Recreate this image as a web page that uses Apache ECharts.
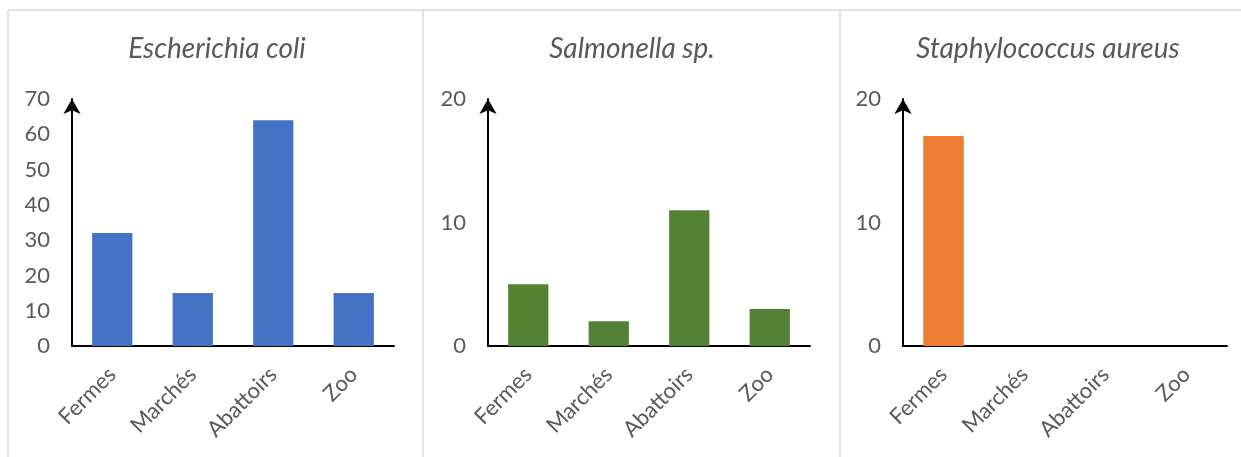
<!DOCTYPE html>
<html><head><meta charset="utf-8">
<script src="https://cdn.jsdelivr.net/npm/echarts@6/dist/echarts.min.js"></script>
<style>html,body{margin:0;padding:0;background:#fff}#c{width:1241px;height:457px}</style>
</head><body><div id="c"></div>
<script>
const categories = ['Fermes', 'Marchés', 'Abattoirs', 'Zoo'];
const titles = ['Escherichia coli', 'Salmonella sp.', 'Staphylococcus aureus'];
const ecoli = [32, 15, 64, 15];
const salmonella = [5, 2, 11, 3];
const staph = [17, 0, 0, 0];
const yMax = [70, 20, 20];
const yInterval = [10, 10, 10];
const colors = ['#4472C4', '#548235', '#ED7D31'];
const seriesData = [ecoli, salmonella, staph];

const FONT = 'Lato';
const grids = [
  {left: 72, width: 322, top: 99, height: 247},
  {left: 488, width: 322, top: 99, height: 247},
  {left: 903, width: 324, top: 99, height: 247}
];
const titleX = [212, 627, 1043];

const chart = echarts.init(document.getElementById('c'));
chart.setOption({
  animation: false,
  textStyle: {fontFamily: FONT},
  title: titles.map((t, i) => ({
    text: t, left: titleX[i], top: 30, textAlign: 'center',
    textStyle: {fontFamily: FONT, fontStyle: 'italic', fontWeight: 'normal', fontSize: 28, color: '#595959'}
  })),
  graphic: [
    {type: 'line', shape: {x1: 8, y1: 10, x2: 1241, y2: 10}, style: {stroke: '#d9d9d9', lineWidth: 1.5}},
    {type: 'line', shape: {x1: 8, y1: 10, x2: 8, y2: 457}, style: {stroke: '#d9d9d9', lineWidth: 1.5}},
    {type: 'line', shape: {x1: 423, y1: 10, x2: 423, y2: 457}, style: {stroke: '#d9d9d9', lineWidth: 1.5}},
    {type: 'line', shape: {x1: 840, y1: 10, x2: 840, y2: 457}, style: {stroke: '#d9d9d9', lineWidth: 1.5}}
  ],
  grid: grids,
  xAxis: grids.map((g, i) => ({
    type: 'category', gridIndex: i, data: categories,
    axisLine: {lineStyle: {color: '#000', width: 2}},
    axisTick: {show: false},
    axisLabel: {rotate: 45, fontSize: 22, color: '#595959', margin: 25, fontFamily: FONT, interval: 0}
  })),
  yAxis: grids.map((g, i) => ({
    type: 'value', gridIndex: i, min: 0, max: yMax[i], interval: yInterval[i],
    axisLine: {show: true, lineStyle: {color: '#000', width: 2}, symbol: ['none', 'arrow'], symbolSize: [13, 15], symbolOffset: [0, 0]},
    axisTick: {show: false},
    splitLine: {show: false},
    axisLabel: {fontSize: 22, color: '#595959', margin: 22, fontFamily: FONT}
  })),
  series: seriesData.map((d, i) => ({
    type: 'bar', xAxisIndex: i, yAxisIndex: i, data: d,
    barWidth: '50%', itemStyle: {color: colors[i]}
  }))
});
</script></body></html>
